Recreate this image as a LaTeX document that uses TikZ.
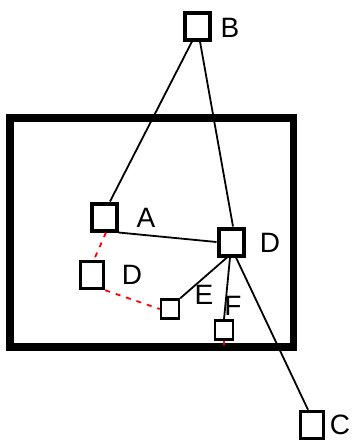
\documentclass[tikz,border=0pt]{standalone}
\usepackage{fontspec}
\setmainfont{Liberation Sans}

\begin{document}
\begin{tikzpicture}
    [x=1pt,y=-1pt,
     every node/.style={draw,line width=4pt,minimum width=25pt,minimum height=27pt,inner sep=0pt},
     small/.style={line width=2.5pt,minimum width=18pt,minimum height=19pt},
     lbl/.style={draw=none,font=\fontsize{28}{28}\selectfont},
     link/.style={line width=1.8pt},
     redlink/.style={red,line width=1.8pt,dashed,dash pattern=on 5pt off 6pt}]
    \useasboundingbox (0,0) rectangle (361,445);

    \draw[line width=7.5pt] (10,118) rectangle (293.5,347);

    \node (b) at (197,26) {};
    \node (a) at (104,217) {};
    \node (d) at (231,242) {};
    \node[line width=3.5pt,minimum width=23pt] (d2) at (92,275) {};
    \node[small] (e) at (170,309) {};
    \node[small] (f) at (224,330) {};
    \node[line width=3.5pt,minimum width=23pt] (c) at (312,425) {};

    \node[lbl] (lb) at (230,28) {B};
    \node[lbl] (la) at (146,218) {A};
    \node[lbl] (ld) at (270,243) {D};
    \node[lbl] (ld2) at (132,275) {D};
    \node[lbl] (le) at (204,295) {E};
    \node[lbl] (lf) at (233,306) {F};
    \node[lbl] (lc) at (340,425) {C};

    \draw[link] ([xshift=-5pt]b.south) -- ([xshift=6pt]a.north);
    \draw[link] ([xshift=3pt]b.south) -- ([xshift=2pt]d.north);
    \draw[link] (a.south east) -- (d.west);
    \draw[link] ([xshift=-4pt]d.south) -- (e.north east);
    \draw[link] ([xshift=-1pt]d.south) -- (f.north);
    \draw[link] ([xshift=5pt]d.south) -- ([xshift=-4pt]c.north);

    \draw[redlink] ([xshift=2pt]a.south) -- ([xshift=2pt]d2.north);
    \draw[redlink] (d2.south east) -- (e.west);
    \draw[red,line width=1.8pt] (f.south) -- ++(0,4);
\end{tikzpicture}
\end{document}
